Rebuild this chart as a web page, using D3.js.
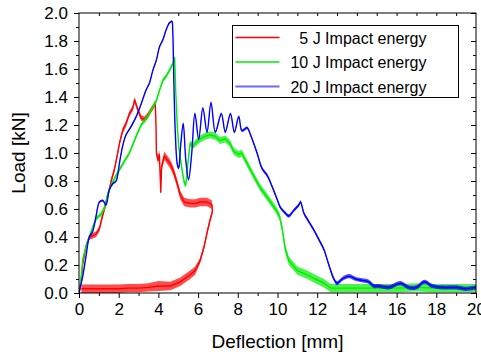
<!DOCTYPE html>
<html>
<head>
<meta charset="utf-8">
<script src="https://cdn.jsdelivr.net/npm/d3@7"></script>
<style>
  body { margin: 0; background: #fff; }
  text { font-family: 'Liberation Sans', Arial, sans-serif; fill: #000; }
</style>
</head>
<body>
<div class="chart"></div>
<script>
// [deflection mm, load kN, half-width of the noise band kN]
const red5J = [
  [0, 0, 0], [0.1, 0.08, 0.02], [0.19, 0.21, 0.02], [0.35, 0.33, 0.02], [0.52, 0.4, 0.02],
  [0.7, 0.41, 0.02], [0.86, 0.42, 0.02], [1.03, 0.46, 0.02], [1.2, 0.56, 0.02], [1.36, 0.64, 0.02],
  [1.53, 0.74, 0.02], [1.62, 0.8, 0.02], [1.78, 0.88, 0.02], [1.95, 1.0, 0.02], [2.04, 1.07, 0.02],
  [2.2, 1.16, 0.02], [2.37, 1.21, 0.02], [2.54, 1.28, 0.02], [2.71, 1.32, 0.02], [2.8, 1.38, 0.02],
  [2.96, 1.31, 0.02], [3.13, 1.25, 0.02], [3.3, 1.24, 0.02], [3.47, 1.27, 0.02], [3.64, 1.31, 0.02],
  [3.75, 1.33, 0.02], [3.84, 1.36, 0.02], [3.88, 1.2, 0.01], [3.9, 1.0, 0.02], [3.98, 0.95, 0.03],
  [4.05, 0.99, 0.03], [4.12, 0.72, 0], [4.16, 0.9, 0.03], [4.3, 0.98, 0.03], [4.45, 0.95, 0.03],
  [4.6, 0.92, 0.03], [4.76, 0.87, 0.03], [4.93, 0.79, 0.03], [5.1, 0.7, 0.03], [5.3, 0.65, 0.03],
  [5.6, 0.64, 0.03], [5.86, 0.64, 0.03], [6.1, 0.65, 0.03], [6.45, 0.65, 0.03], [6.7, 0.63, 0.03],
  [6.72, 0.58, 0.02], [6.6, 0.52, 0.02], [6.45, 0.43, 0.02], [6.3, 0.33, 0.02], [6.1, 0.23, 0.02],
  [5.85, 0.16, 0.03], [5.6, 0.13, 0.03], [5.1, 0.08, 0.03], [4.6, 0.05, 0.03], [4.0, 0.05, 0.035],
  [3.5, 0.04, 0.03], [3.0, 0.035, 0.03], [2.5, 0.035, 0.03], [2.0, 0.03, 0.03], [1.5, 0.03, 0.03],
  [1.0, 0.03, 0.03], [0.5, 0.03, 0.03], [0.12, 0.03, 0.03],
];

const green10J = [
  [0, 0, 0], [0.1, 0.1, 0.01], [0.19, 0.24, 0.015], [0.35, 0.33, 0.015], [0.52, 0.4, 0.015],
  [0.69, 0.47, 0.015], [0.86, 0.53, 0.015], [1.0, 0.55, 0.015], [1.11, 0.56, 0.015], [1.28, 0.61, 0.015],
  [1.45, 0.71, 0.015], [1.62, 0.77, 0.015], [1.87, 0.84, 0.015], [2.2, 0.92, 0.015], [2.54, 1.0, 0.015],
  [2.71, 1.06, 0.015], [2.88, 1.12, 0.015], [3.13, 1.2, 0.015], [3.47, 1.26, 0.015], [3.64, 1.31, 0.015],
  [3.89, 1.37, 0.015], [4.06, 1.45, 0.015], [4.23, 1.52, 0.015], [4.4, 1.55, 0.015], [4.56, 1.59, 0.015],
  [4.73, 1.64, 0.015], [4.82, 1.68, 0.01], [4.87, 1.45, 0], [4.95, 1.2, 0], [5.02, 1.05, 0.01],
  [5.19, 0.88, 0.02], [5.3, 0.79, 0.02], [5.38, 0.77, 0.02], [5.45, 0.88, 0.02], [5.52, 0.97, 0.02],
  [5.6, 1.07, 0.02], [5.75, 1.05, 0.02], [5.86, 1.07, 0.025], [6.1, 1.1, 0.025], [6.36, 1.12, 0.025],
  [6.6, 1.13, 0.025], [6.87, 1.12, 0.025], [7.1, 1.09, 0.025], [7.37, 1.1, 0.025], [7.6, 1.07, 0.025],
  [7.8, 1.01, 0.025], [8.05, 0.99, 0.025], [8.2, 1.0, 0.025], [8.38, 0.95, 0.025], [8.64, 0.88, 0.025],
  [8.9, 0.81, 0.025], [9.14, 0.75, 0.025], [9.4, 0.7, 0.025], [9.65, 0.65, 0.025], [9.9, 0.6, 0.025],
  [10.1, 0.55, 0.025], [10.25, 0.45, 0.025], [10.38, 0.32, 0.03], [10.57, 0.23, 0.03], [11.0, 0.16, 0.03],
  [11.5, 0.13, 0.03], [11.9, 0.1, 0.03], [12.34, 0.07, 0.03], [12.68, 0.035, 0.03], [13.0, 0.035, 0.03],
  [14.0, 0.035, 0.03], [15.0, 0.035, 0.03], [16.0, 0.035, 0.03], [17.0, 0.04, 0.03], [18.0, 0.035, 0.03],
  [19.0, 0.035, 0.03], [20.0, 0.035, 0.03],
];

const blue20J = [
  [0, 0, 0], [0.19, 0.12, 0.008], [0.35, 0.26, 0.008], [0.52, 0.4, 0.008], [0.69, 0.44, 0.008],
  [0.86, 0.55, 0.008], [1.03, 0.65, 0.008], [1.2, 0.66, 0.008], [1.36, 0.63, 0.008], [1.53, 0.74, 0.008],
  [1.7, 0.78, 0.008], [1.87, 0.8, 0.008], [2.04, 0.93, 0.008], [2.2, 1.05, 0.008], [2.37, 1.13, 0.008],
  [2.63, 1.19, 0.008], [2.88, 1.26, 0.008], [3.13, 1.35, 0.008], [3.38, 1.45, 0.008], [3.55, 1.5, 0.008],
  [3.72, 1.59, 0.008], [3.89, 1.66, 0.008], [4.06, 1.76, 0.008], [4.23, 1.81, 0.008], [4.39, 1.88, 0.008],
  [4.56, 1.93, 0.008], [4.68, 1.94, 0.008], [4.72, 1.88, 0], [4.78, 1.5, 0], [4.85, 1.15, 0],
  [4.95, 0.92, 0.01], [5.02, 0.89, 0.01], [5.12, 1.05, 0.01], [5.25, 1.21, 0.01], [5.38, 0.95, 0.01],
  [5.52, 0.81, 0.01], [5.68, 1.0, 0.01], [5.84, 1.28, 0.01], [6.03, 1.1, 0.01], [6.24, 1.32, 0.01],
  [6.45, 1.15, 0.01], [6.65, 1.36, 0.01], [6.87, 1.15, 0.01], [7.17, 1.28, 0.01], [7.37, 1.15, 0.01],
  [7.63, 1.28, 0.01], [7.83, 1.15, 0.01], [8.05, 1.26, 0.01], [8.21, 1.16, 0.01], [8.47, 1.18, 0.01],
  [8.64, 1.13, 0.01], [8.97, 1.0, 0.012], [9.22, 0.89, 0.012], [9.48, 0.84, 0.012], [9.73, 0.76, 0.012],
  [9.98, 0.67, 0.012], [10.15, 0.61, 0.012], [10.4, 0.57, 0.012], [10.57, 0.55, 0.012], [10.82, 0.59, 0.012],
  [11.08, 0.63, 0.012], [11.16, 0.65, 0.012], [11.33, 0.57, 0.012], [11.58, 0.51, 0.012], [11.83, 0.45, 0.012],
  [12.09, 0.38, 0.012], [12.34, 0.31, 0.012], [12.5, 0.24, 0.012], [12.68, 0.16, 0.015], [12.84, 0.1, 0.015],
  [13.0, 0.07, 0.015], [13.26, 0.1, 0.015], [13.6, 0.12, 0.015], [13.94, 0.1, 0.015], [14.28, 0.09, 0.015],
  [14.6, 0.08, 0.015], [14.86, 0.05, 0.015], [15.1, 0.05, 0.015], [15.6, 0.04, 0.015], [16.2, 0.07, 0.015],
  [16.6, 0.04, 0.015], [17.0, 0.04, 0.015], [17.4, 0.08, 0.015], [17.8, 0.05, 0.015], [18.3, 0.04, 0.015],
  [19.0, 0.04, 0.015], [19.5, 0.03, 0.015], [20.0, 0.04, 0.015],
];

const seriesNames = ['5 J Impact energy', '10 J Impact energy', '20 J Impact energy'];
const seriesColors = ['#ff0000', '#00ee00', '#0000ff'];
const xTicks = [0, 2, 4, 6, 8, 10, 12, 14, 16, 18, 20];
const yTicks = [0, 0.2, 0.4, 0.6, 0.8, 1.0, 1.2, 1.4, 1.6, 1.8, 2.0];

const width = 481;
const height = 356;
const margin = {top: 13, right: 5, bottom: 63, left: 79};
const plotW = width - margin.left - margin.right;
const plotH = height - margin.top - margin.bottom;

const svg = d3
  .select('.chart')
  .append('svg')
  .attr('width', width)
  .attr('height', height);

const x = d3.scaleLinear().domain([0, 20]).range([0, plotW]);
const y = d3.scaleLinear().domain([0, 2]).range([plotH, 0]);

const g = svg.append('g').attr('transform', `translate(${margin.left},${margin.top})`);

g.append('clipPath')
  .attr('id', 'plotclip')
  .append('rect')
  .attr('width', plotW)
  .attr('height', plotH);

const xMinor = d3.range(1, 20, 2);
const yMinor = d3.range(1, 20, 2).map(d => d / 10);

// bottom axis, ticks outward
g.append('g')
  .attr('class', 'axis')
  .attr('transform', `translate(0,${plotH})`)
  .call(d3.axisBottom(x).tickValues(xTicks).tickSize(5).tickPadding(5).tickFormat(d3.format('d')));
g.append('g')
  .attr('class', 'axis minor')
  .attr('transform', `translate(0,${plotH})`)
  .call(d3.axisBottom(x).tickValues(xMinor).tickSize(3).tickFormat(''));

// left axis, ticks outward
g.append('g')
  .attr('class', 'axis')
  .call(d3.axisLeft(y).tickValues(yTicks).tickSize(5).tickPadding(6).tickFormat(d3.format('.1f')));
g.append('g')
  .attr('class', 'axis minor')
  .call(d3.axisLeft(y).tickValues(yMinor).tickSize(3).tickFormat(''));

// top and right axes, ticks inward, no labels
g.append('g')
  .attr('class', 'axis minor')
  .call(d3.axisTop(x).tickValues(d3.range(1, 20)).tickSize(-3).tickFormat(''));
g.append('g')
  .attr('class', 'axis minor')
  .attr('transform', `translate(${plotW},0)`)
  .call(d3.axisRight(y).tickValues(yTicks).tickSize(-5).tickFormat(''));
g.append('g')
  .attr('class', 'axis minor')
  .attr('transform', `translate(${plotW},0)`)
  .call(d3.axisRight(y).tickValues(yMinor).tickSize(-3).tickFormat(''));

g.selectAll('.axis .domain').remove();
g.selectAll('.axis text').style('font-size', '17px');
g.selectAll('.axis line').attr('stroke', '#000');

const curves = g.append('g').attr('clip-path', 'url(#plotclip)');

[red5J, green10J, blue20J].forEach((data, i) => {
  // the blue trace is a smooth wave, the others are plain polylines
  const curve = i === 2 ? d3.curveCatmullRom.alpha(0.5) : d3.curveLinear;
  const area = d3
    .area()
    .curve(curve)
    .x(d => x(d[0]))
    .y0(d => y(d[1] - d[2]))
    .y1(d => y(d[1] + d[2]));
  const line = d3
    .line()
    .curve(curve)
    .x(d => x(d[0]))
    .y(d => y(d[1]));
  curves
    .append('path')
    .datum(data)
    .attr('d', area)
    .attr('fill', seriesColors[i])
    .attr('fill-opacity', 0.7);
  curves
    .append('path')
    .datum(data)
    .attr('d', line)
    .attr('fill', 'none')
    .attr('stroke', seriesColors[i])
    .attr('stroke-width', 1.4)
    .attr('stroke-linejoin', 'round');
});

// frame
g.append('rect')
  .attr('width', plotW)
  .attr('height', plotH)
  .attr('fill', 'none')
  .attr('stroke', '#000')
  .attr('stroke-width', 1);

// legend
const legend = svg.append('g').attr('transform', 'translate(232.5,25.5)');
legend
  .append('rect')
  .attr('width', 226)
  .attr('height', 72)
  .attr('fill', '#fff')
  .attr('stroke', '#000');

const rows = legend
  .selectAll('.row')
  .data(seriesNames)
  .enter()
  .append('g')
  .attr('class', 'row')
  .attr('transform', (d, i) => `translate(0,${12 + i * 24.5})`);

rows
  .append('line')
  .attr('x1', 3)
  .attr('x2', 47)
  .attr('y1', 0)
  .attr('y2', 0)
  .style('stroke', (d, i) => (i === 2 ? '#6a6aff' : seriesColors[i]))
  .style('stroke-width', (d, i) => (i === 2 ? 2 : 1.3));

rows
  .append('text')
  .attr('x', 194)
  .attr('y', 6)
  .attr('text-anchor', 'end')
  .style('font-size', '16px')
  .text(d => d);

// axis titles
svg
  .append('text')
  .attr('x', margin.left + plotW / 2)
  .attr('y', 348)
  .attr('text-anchor', 'middle')
  .style('font-size', '19px')
  .text('Deflection [mm]');

svg
  .append('text')
  .attr('transform', `translate(25,${margin.top + plotH / 2}) rotate(-90)`)
  .attr('text-anchor', 'middle')
  .style('font-size', '19px')
  .text('Load [kN]');
</script>
</body>
</html>
